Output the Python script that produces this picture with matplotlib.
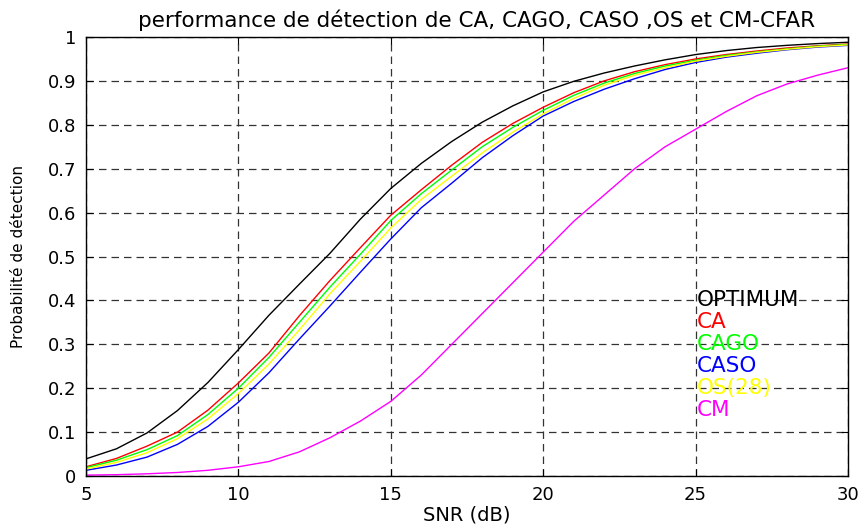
import matplotlib
matplotlib.use("Agg")
import matplotlib.pyplot as plt
import numpy as np

plt.rcParams['font.family'] = ['DejaVu Sans']

snr = list(range(5, 31))

# Pd (1 dB)
optimum = [0.039, 0.062, 0.098, 0.149, 0.213, 0.288, 0.366, 0.437, 0.507, 0.585,
           0.655, 0.712, 0.762, 0.806, 0.843, 0.875, 0.899, 0.918, 0.934, 0.948,
           0.960, 0.969, 0.976, 0.981, 0.985, 0.988]
ca = [0.021, 0.040, 0.068, 0.100, 0.150, 0.212, 0.280, 0.365, 0.445, 0.520,
      0.594, 0.652, 0.708, 0.760, 0.803, 0.840, 0.873, 0.900, 0.921, 0.937,
      0.950, 0.960, 0.968, 0.975, 0.980, 0.984]
cago = [0.019, 0.036, 0.060, 0.092, 0.140, 0.200, 0.270, 0.350, 0.430, 0.505,
        0.582, 0.643, 0.697, 0.750, 0.794, 0.833, 0.867, 0.895, 0.917, 0.934,
        0.947, 0.958, 0.966, 0.973, 0.979, 0.983]
caso = [0.013, 0.025, 0.043, 0.072, 0.113, 0.168, 0.235, 0.312, 0.387, 0.464,
        0.540, 0.611, 0.667, 0.725, 0.775, 0.820, 0.853, 0.881, 0.905, 0.926,
        0.942, 0.954, 0.963, 0.971, 0.977, 0.981]
os28 = [0.016, 0.031, 0.053, 0.085, 0.130, 0.188, 0.255, 0.333, 0.415, 0.489,
        0.565, 0.630, 0.683, 0.736, 0.783, 0.825, 0.860, 0.890, 0.913, 0.930,
        0.945, 0.956, 0.965, 0.972, 0.978, 0.982]
cm = [0.002, 0.003, 0.005, 0.008, 0.013, 0.021, 0.033, 0.055, 0.087, 0.125,
      0.170, 0.230, 0.300, 0.370, 0.440, 0.510, 0.580, 0.640, 0.700, 0.750,
      0.790, 0.830, 0.866, 0.893, 0.913, 0.930]

courbes = [("OPTIMUM", optimum, "k"), ("CA", ca, "#ff0000"), ("CAGO", cago, "#00ff00"),
           ("CASO", caso, "#0000ff"), ("OS(28)", os28, "#ffff00"), ("CM", cm, "#ff00ff")]
y_textes = [0.40, 0.35, 0.30, 0.25, 0.20, 0.15]

xticks = [5, 10, 15, 20, 25, 30]
yticks = [0, 0.1, 0.2, 0.3, 0.4, 0.5, 0.6, 0.7, 0.8, 0.9, 1]
ylabels = ["0", "0.1", "0.2", "0.3", "0.4", "0.5", "0.6", "0.7", "0.8", "0.9", "1"]

fig = plt.figure(figsize=(8.64, 5.26), dpi=100)
ax = fig.add_axes([86/864, 50/526, 762/864, 439/526])

for nom, pd, c in courbes:
    ax.plot(snr, pd, color=c, lw=1.0)

for (nom, pd, c), yt in zip(courbes, y_textes):
    ax.text(25.05, yt, nom, color=c, fontsize=15.5, va="center", ha="left")

ax.set_xlim(5, 30)
ax.set_ylim(0, 1)
ax.set_xticks(xticks)
ax.set_yticks(yticks)
ax.set_yticklabels(ylabels)
ax.tick_params(direction="in", length=5, labelsize=13, top=True, right=True, pad=7)
ax.grid(True, color="0.2", linestyle=(0, (6, 4)), lw=0.9)
for s in ax.spines.values():
    s.set_linewidth(1.0)

ax.set_title("performance de détection de CA, CAGO, CASO ,OS et CM-CFAR",
             fontsize=15.5, pad=7, x=0.513)
ax.set_xlabel("SNR (dB)", fontsize=14, labelpad=1)
ax.set_ylabel("Probabilité de détection", fontsize=11, labelpad=16)

fig.savefig("out.png", dpi=100)
